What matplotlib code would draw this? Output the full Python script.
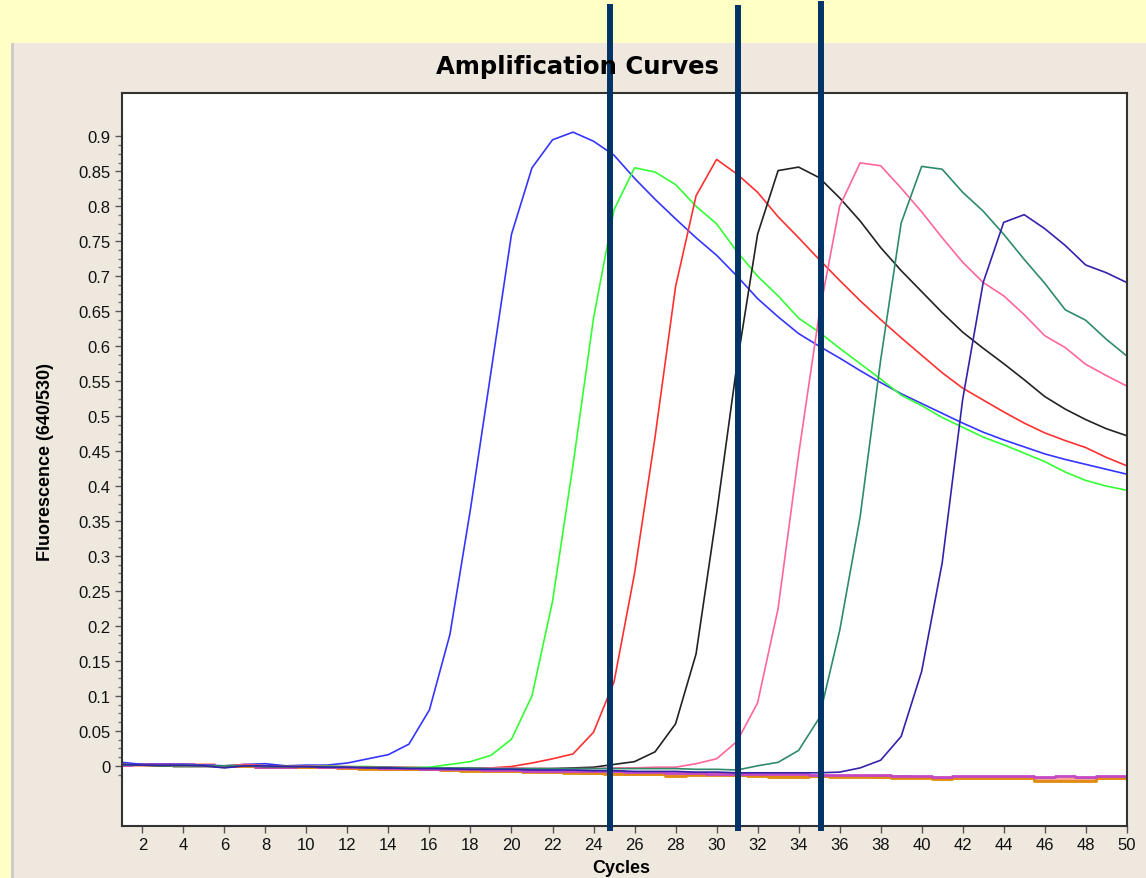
import numpy as np
import matplotlib
matplotlib.use('Agg')
import matplotlib.pyplot as plt
from matplotlib.patches import Rectangle
from matplotlib.ticker import FixedLocator, FuncFormatter

plt.rcParams['font.family'] = ['Liberation Sans', 'DejaVu Sans']

cycles = np.arange(1, 51)

# amplification curves (fluorescence 640/530 per cycle)
blue = [0.005, 0.002, 0.002, 0.002, 0.001, 0.000, 0.002, 0.003, 0.000, 0.001,
        0.001, 0.004, 0.010, 0.016, 0.031, 0.080, 0.188, 0.367, 0.563, 0.760,
        0.855, 0.895, 0.906, 0.893, 0.873, 0.840, 0.810, 0.782, 0.755, 0.730,
        0.700, 0.668, 0.642, 0.618, 0.600, 0.583, 0.565, 0.548, 0.532, 0.518,
        0.504, 0.490, 0.477, 0.466, 0.456, 0.446, 0.438, 0.431, 0.424, 0.417]
green = [0.002, 0.001, 0.001, 0.001, 0.000, 0.000, 0.001, 0.000, -0.001, 0.000,
         0.000, -0.001, -0.001, -0.002, -0.002, -0.002, 0.002, 0.006, 0.015, 0.038,
         0.100, 0.235, 0.430, 0.640, 0.795, 0.855, 0.849, 0.831, 0.800, 0.775,
         0.735, 0.700, 0.672, 0.640, 0.620, 0.597, 0.575, 0.553, 0.530, 0.515,
         0.498, 0.484, 0.470, 0.459, 0.447, 0.435, 0.420, 0.408, 0.400, 0.394]
red = [0.001, 0.001, 0.000, 0.000, 0.000, -0.001, 0.002, 0.000, -0.001, -0.001,
       -0.001, -0.002, -0.002, -0.002, -0.003, -0.003, -0.003, -0.003, -0.003, -0.001,
       0.004, 0.010, 0.017, 0.048, 0.120, 0.275, 0.470, 0.685, 0.815, 0.867,
       0.846, 0.820, 0.785, 0.755, 0.724, 0.694, 0.665, 0.638, 0.612, 0.587,
       0.562, 0.540, 0.523, 0.506, 0.490, 0.476, 0.465, 0.455, 0.441, 0.429]
black = [0.001, 0.001, 0.000, 0.000, 0.000, -0.001, 0.000, -0.001, -0.001, -0.001,
         -0.002, -0.002, -0.002, -0.003, -0.003, -0.003, -0.004, -0.004, -0.004, -0.004,
         -0.004, -0.004, -0.003, -0.002, 0.002, 0.006, 0.020, 0.060, 0.160, 0.360,
         0.575, 0.760, 0.851, 0.856, 0.841, 0.812, 0.779, 0.741, 0.708, 0.678,
         0.648, 0.620, 0.597, 0.575, 0.552, 0.528, 0.510, 0.495, 0.482, 0.472]
pink = [0.002, 0.001, 0.001, 0.000, 0.000, 0.000, 0.001, 0.000, -0.001, 0.000,
        -0.001, -0.001, -0.002, -0.002, -0.002, -0.003, -0.003, -0.003, -0.003, -0.003,
        -0.004, -0.004, -0.004, -0.004, -0.003, -0.003, -0.002, -0.002, 0.003, 0.010,
        0.035, 0.090, 0.225, 0.445, 0.645, 0.800, 0.862, 0.858, 0.826, 0.792,
        0.755, 0.720, 0.691, 0.672, 0.645, 0.615, 0.598, 0.574, 0.558, 0.543]
teal = [0.001, 0.001, 0.000, 0.000, 0.000, 0.000, 0.000, -0.001, -0.001, -0.001,
        -0.001, -0.002, -0.002, -0.002, -0.003, -0.003, -0.003, -0.003, -0.004, -0.004,
        -0.004, -0.004, -0.004, -0.004, -0.004, -0.004, -0.004, -0.004, -0.005, -0.005,
        -0.006, 0.000, 0.005, 0.022, 0.068, 0.193, 0.356, 0.580, 0.776, 0.857,
        0.853, 0.820, 0.793, 0.760, 0.724, 0.690, 0.652, 0.637, 0.610, 0.586]
indigo = [0.002, 0.001, 0.001, 0.001, 0.000, -0.003, 0.000, 0.000, -0.001, -0.001,
          -0.002, -0.002, -0.003, -0.003, -0.004, -0.004, -0.004, -0.005, -0.005, -0.005,
          -0.006, -0.006, -0.006, -0.007, -0.007, -0.008, -0.008, -0.008, -0.009, -0.009,
          -0.010, -0.010, -0.010, -0.010, -0.010, -0.009, -0.003, 0.008, 0.042, 0.135,
          0.290, 0.524, 0.691, 0.777, 0.788, 0.768, 0.744, 0.716, 0.705, 0.691]

# negative controls (flat)
orange = [0.002, 0.002, 0.002, 0.001, 0.001, 0.000, 0.000, -0.001, -0.002, -0.002,
          -0.002, -0.003, -0.004, -0.004, -0.005, -0.005, -0.006, -0.007, -0.007, -0.008,
          -0.009, -0.009, -0.010, -0.010, -0.011, -0.011, -0.012, -0.014, -0.013, -0.013,
          -0.013, -0.014, -0.016, -0.016, -0.015, -0.016, -0.016, -0.016, -0.017, -0.017,
          -0.019, -0.018, -0.018, -0.018, -0.018, -0.021, -0.021, -0.021, -0.018, -0.018]
magenta = [0.001, 0.002, 0.002, 0.002, 0.001, 0.000, 0.001, -0.002, -0.001, 0.000,
           -0.001, -0.001, -0.002, -0.003, -0.003, -0.004, -0.005, -0.005, -0.006, -0.006,
           -0.007, -0.007, -0.008, -0.008, -0.008, -0.009, -0.009, -0.010, -0.010, -0.011,
           -0.011, -0.012, -0.012, -0.012, -0.013, -0.013, -0.013, -0.013, -0.014, -0.014,
           -0.016, -0.014, -0.014, -0.014, -0.014, -0.016, -0.015, -0.016, -0.014, -0.014]
peach = [0.001, 0.001, 0.001, 0.001, 0.002, 0.000, 0.000, 0.000, -0.001, -0.001,
         -0.002, -0.003, -0.003, -0.004, -0.004, -0.005, -0.006, -0.006, -0.007, -0.008,
         -0.008, -0.009, -0.009, -0.010, -0.010, -0.011, -0.011, -0.012, -0.012, -0.012,
         -0.013, -0.013, -0.014, -0.015, -0.014, -0.015, -0.015, -0.016, -0.016, -0.016,
         -0.018, -0.017, -0.017, -0.017, -0.017, -0.020, -0.019, -0.020, -0.017, -0.017]
gray = [0.001, 0.001, 0.001, 0.000, 0.000, 0.000, 0.000, -0.001, -0.001, -0.002,
        -0.002, -0.002, -0.003, -0.004, -0.004, -0.005, -0.005, -0.006, -0.006, -0.007,
        -0.008, -0.008, -0.009, -0.009, -0.010, -0.010, -0.011, -0.011, -0.011, -0.012,
        -0.012, -0.013, -0.013, -0.014, -0.014, -0.014, -0.015, -0.015, -0.015, -0.016,
        -0.017, -0.016, -0.016, -0.016, -0.016, -0.019, -0.019, -0.019, -0.016, -0.016]

amp_curves = [(blue, '#3535ff'), (green, '#33ff33'), (red, '#ff3030'), (black, '#222222'),
              (pink, '#ff6699'), (teal, '#2e8b6a'), (indigo, '#3322aa')]
flat_curves = [(gray, '#9aa890'), (peach, '#ffa58a'), (orange, '#e08a10'), (magenta, '#c447c4')]

# threshold markers drawn over the chart
marker_cycles = [24.8, 31.05, 35.1]
marker_tops = [1.117, 1.116, 1.121]

fig = plt.figure(figsize=(11.46, 8.79), dpi=100)
fig.patch.set_facecolor('#ffffc6')
fig.patches.append(Rectangle((11/1146, 0), 1, 1 - 44/879, transform=fig.transFigure,
                             facecolor='#eee8df', edgecolor='none', zorder=-2))
fig.patches.append(Rectangle((11/1146, 0), 3/1146, 1 - 44/879, transform=fig.transFigure,
                             facecolor='#cdcbc4', edgecolor='none', zorder=-1))

ax = fig.add_axes([0.1063, 0.0592, 0.8769, 0.8339])
ax.set_zorder(2)
ax.set_facecolor('white')

for vals, col in flat_curves:
    ax.plot(cycles, vals, color=col, lw=2.0, drawstyle='steps-mid')
for vals, col in amp_curves:
    ax.plot(cycles, vals, color=col, lw=1.2)

for xc, top in zip(marker_cycles, marker_tops):
    ax.axvline(xc, ymin=-0.003, ymax=top, color='#003366', lw=4.3, clip_on=False, zorder=10)

ax.set_xlim(1, 50)
ax.set_ylim(-0.086, 0.962)
ax.set_xticks(np.arange(2, 51, 2))
ax.yaxis.set_major_locator(FixedLocator(np.round(np.arange(0, 0.91, 0.05), 2)))
ax.yaxis.set_minor_locator(FixedLocator(np.arange(-0.0125, 0.9, 0.0125)))
ax.yaxis.set_major_formatter(FuncFormatter(lambda v, p: '%g' % round(v, 2)))
ax.tick_params(axis='both', which='major', direction='out', length=5, width=1,
               color='#555555', labelsize=12, pad=3, labelcolor='#111111')
ax.tick_params(axis='y', which='minor', direction='out', length=3, width=1, color='#777777')
for s in ax.spines.values():
    s.set_color('#333333')
    s.set_linewidth(1.5)

fig.text(0.504, 0.924, 'Amplification Curves', ha='center', va='center',
         fontsize=17.5, fontweight='bold', family='DejaVu Sans')
fig.text(0.0393, 0.474, 'Fluorescence (640/530)', ha='center', va='center',
         rotation=90, fontsize=13, fontweight='bold')
fig.text(0.542, 0.0114, 'Cycles', ha='center', va='center', fontsize=13, fontweight='bold')

plt.savefig('out.png', dpi=100, facecolor=fig.get_facecolor())
